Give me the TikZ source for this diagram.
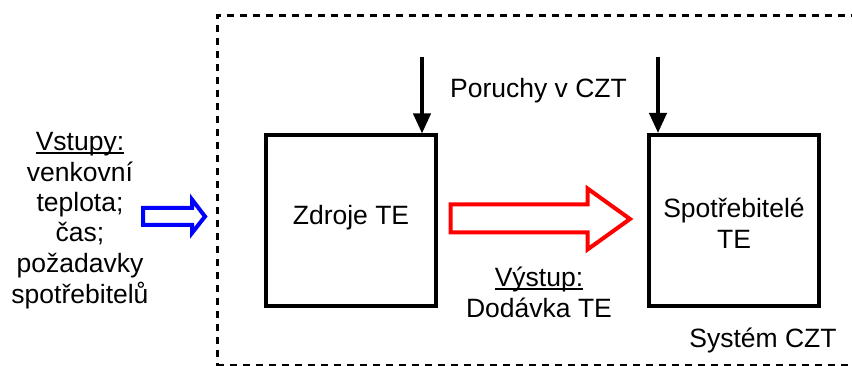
\documentclass[tikz,border=0pt]{standalone}
\usepackage{fontspec}
\setmainfont{Liberation Sans}
\usepackage{xcolor}
\usetikzlibrary{arrows.meta}
\usetikzlibrary{math}
\definecolor{myblue}{RGB}{0,0,255}
\definecolor{myred}{RGB}{255,0,0}
\newcommand{\ulinetext}[1]{{\setbox0\hbox{#1}\rlap{\rule[-3pt]{\wd0}{1.8pt}}\box0}}

\begin{document}
\begin{tikzpicture}[x=1pt,y=-1pt,
  every node/.style={font=\fontsize{26.5}{31}\selectfont, inner sep=0pt},
  blok/.style={draw, line width=4pt, minimum width=170pt, minimum height=171pt},
  porucha/.style={line width=4pt, -{Triangle[width=17pt,length=20pt]}}
]
\tikzmath{
\ytop=57;
\xleft=217;
}
\useasboundingbox (0,0) rectangle (852,366);

\draw[line width=3pt, dash pattern=on 7pt off 6pt] (\xleft,370) -- (\xleft,16) -- (860,16);
\draw[line width=3pt, dash pattern=on 7pt off 6pt] (\xleft,365.5) -- (860,365.5);

\node[blok] (zdroje) at (350.5,221) {};
\node[blok] (spotr) at (734,220.5) {};
\node at (351,218) {Zdroje TE};
\node[align=center] at (734,223) {Spotřebitelé\\TE};

\coordinate (por1) at (422,\ytop);
\coordinate (por2) at (658,\ytop);
\draw[porucha] (por1) -- (por1 |- zdroje.north);
\draw[porucha] (por2) -- (por2 |- spotr.north);
\node[anchor=base] (poruchy) at (538.5,98) {Poruchy v CZT};

\draw[myred, line width=4pt, line join=miter]
  (450.5,204.5) -- (587.5,204.5) -- (587.5,188.5) -- (630,219)
  -- (587.5,249.5) -- (587.5,232.5) -- (450.5,232.5) -- cycle;
\draw[myblue, line width=4pt, line join=miter]
  (143,208) -- (192,208) -- (192,199.5) -- (205,216.5)
  -- (192,233) -- (192,225) -- (143,225) -- cycle;

\node[anchor=base] (vstupy) at (80,151) {\ulinetext{Vstupy:}};
\node[anchor=base] at (80,182) {venkovní};
\node[anchor=base] at (80,212) {teplota;};
\node[anchor=base] at (80,242) {čas;};
\node[anchor=base] at (80,273) {požadavky};
\node[anchor=base] at (80,304) {spotřebitelů};

\node[anchor=base] (vystup) at (539,287) {\ulinetext{Výstup:}};
\node[anchor=base] (dodavka) at (539,318) {Dodávka TE};
\node[anchor=base] (system) at (763,348) {Systém CZT};
\end{tikzpicture}
\end{document}
